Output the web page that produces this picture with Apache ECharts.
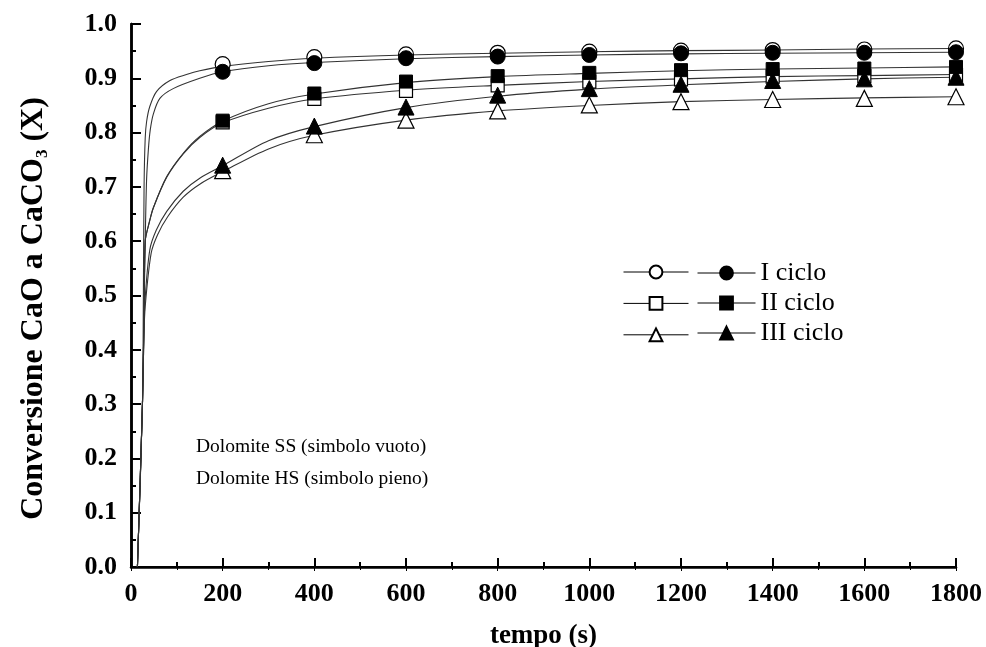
<!DOCTYPE html>
<html>
<head>
<meta charset="utf-8">
<script src="https://cdn.jsdelivr.net/npm/echarts@6/dist/echarts.min.js"></script>
<style>
  html, body { margin: 0; padding: 0; background: #fff; }
  #chart { width: 986px; height: 647px; }
</style>
</head>
<body>
<div id="chart"></div>
<script>
// tempi di misura (s)
const times = [200, 400, 600, 800, 1000, 1200, 1400, 1600, 1800]

// conversione misurata, SS = simbolo vuoto, HS = simbolo pieno
const ssI = [0.926, 0.939, 0.944, 0.947, 0.949, 0.951, 0.952, 0.953, 0.955]
const hsI = [0.912, 0.928, 0.937, 0.940, 0.943, 0.946, 0.947, 0.947, 0.948]
const ssII = [0.819, 0.862, 0.877, 0.887, 0.894, 0.898, 0.903, 0.904, 0.906]
const hsII = [0.822, 0.872, 0.894, 0.904, 0.910, 0.915, 0.917, 0.918, 0.921]
const ssIII = [0.730, 0.796, 0.823, 0.840, 0.851, 0.857, 0.861, 0.863, 0.866]
const hsIII = [0.740, 0.812, 0.847, 0.869, 0.881, 0.889, 0.896, 0.899, 0.902]

// curve di fitting [t, X]
const fitSSI = [[14, 0], [25, 0.3], [27, 0.5], [28.5, 0.7], [31, 0.79], [34, 0.82], [41, 0.848], [56, 0.876], [85, 0.896], [121, 0.907], [150, 0.914], [200, 0.922], [300, 0.931], [400, 0.937], [600, 0.943], [800, 0.946], [1000, 0.949], [1200, 0.951], [1400, 0.952], [1600, 0.954], [1800, 0.955]]
const fitHSI = [[14, 0], [25, 0.3], [28, 0.45], [31, 0.6], [34, 0.713], [38, 0.77], [42, 0.805], [49, 0.835], [63, 0.863], [92, 0.881], [150, 0.9], [200, 0.912], [300, 0.923], [400, 0.929], [600, 0.936], [800, 0.940], [1000, 0.943], [1200, 0.945], [1400, 0.946], [1600, 0.947], [1800, 0.948]]
const fitSSII = [[14, 0], [25, 0.3], [29, 0.5], [31, 0.6], [40, 0.635], [49, 0.662], [78, 0.718], [114, 0.761], [150, 0.791], [200, 0.818], [300, 0.845], [400, 0.862], [600, 0.878], [800, 0.887], [1000, 0.894], [1200, 0.899], [1400, 0.903], [1600, 0.905], [1800, 0.907]]
const fitHSII = [[14, 0], [25, 0.3], [29, 0.5], [31, 0.6], [40, 0.635], [49, 0.662], [78, 0.719], [114, 0.762], [150, 0.793], [200, 0.821], [300, 0.853], [400, 0.871], [600, 0.892], [800, 0.903], [1000, 0.909], [1200, 0.914], [1400, 0.917], [1600, 0.919], [1800, 0.921]]
const fitSSIII = [[14, 0], [25, 0.3], [28, 0.42], [31, 0.48], [44, 0.578], [58, 0.612], [80, 0.645], [114, 0.681], [150, 0.705], [200, 0.728], [300, 0.770], [400, 0.795], [600, 0.823], [800, 0.840], [1000, 0.850], [1200, 0.857], [1400, 0.861], [1600, 0.864], [1800, 0.866]]
const fitHSIII = [[14, 0], [25, 0.3], [28, 0.42], [30.5, 0.49], [41, 0.584], [55, 0.62], [78, 0.655], [114, 0.692], [150, 0.716], [200, 0.739], [300, 0.785], [400, 0.811], [600, 0.846], [800, 0.867], [1000, 0.880], [1200, 0.888], [1400, 0.894], [1600, 0.899], [1800, 0.902]]

const cicli = ['I ciclo', 'II ciclo', 'III ciclo']
const simboli = ['circle', 'rect', 'triangle']
const simboloSize = [15, 13, 16]

const FONT = '"Liberation Serif", "Times New Roman", serif'

const chart = echarts.init(document.getElementById('chart'))

// unisce tempi e valori per le serie di punti
function punti (values) {
  return times.map((t, i) => [t, values[i]])
}

const ssData = [ssI, ssII, ssIII]
const hsData = [hsI, hsII, hsIII]
const fits = [fitSSI, fitHSI, fitSSII, fitHSII, fitSSIII, fitHSIII]

const series = []

// linee di fitting (sotto i simboli)
fits.forEach((f) => {
  series.push({
    type: 'line',
    data: f,
    showSymbol: false,
    smooth: 0.3,
    silent: true,
    lineStyle: { color: '#333', width: 1.1 },
    z: 2
  })
})

// simboli vuoti (SS) e pieni (HS)
cicli.forEach((c, i) => {
  series.push({
    name: 'SS ' + c,
    type: 'line',
    data: punti(ssData[i]),
    symbol: simboli[i],
    symbolSize: simboloSize[i],
    showAllSymbol: true,
    lineStyle: { opacity: 0, width: 0 },
    itemStyle: { color: '#fff', borderColor: '#000', borderWidth: 1.2 },
    z: 3
  })
})
cicli.forEach((c, i) => {
  series.push({
    name: 'HS ' + c,
    type: 'line',
    data: punti(hsData[i]),
    symbol: simboli[i],
    symbolSize: simboloSize[i],
    showAllSymbol: true,
    lineStyle: { opacity: 0, width: 0 },
    itemStyle: { color: '#000', borderColor: '#000', borderWidth: 1 },
    z: 4
  })
})

const labelStyle = { color: '#000', fontFamily: FONT, fontWeight: 'bold', fontSize: 26 }
const legendBase = {
  orient: 'vertical',
  itemHeight: 16,
  selectedMode: false,
  lineStyle: { color: '#000', width: 1, opacity: 1 },
  textStyle: { color: '#000', fontFamily: FONT, fontSize: 26 }
}

const option = {
  animation: false,
  backgroundColor: '#fff',
  grid: { left: 131, right: 30, top: 24, bottom: 80, containLabel: false, outerBoundsMode: 'none' },
  legend: [
    Object.assign({}, legendBase, {
      left: 618,
      top: 259,
      itemWidth: 65,
      itemGap: 16,
      data: cicli.map(c => 'SS ' + c),
      formatter: () => ''
    }),
    Object.assign({}, legendBase, {
      left: 692,
      top: 255,
      itemWidth: 58,
      itemGap: 4,
      data: cicli.map(c => 'HS ' + c),
      formatter: (name) => name.replace('HS ', '')
    })
  ],
  xAxis: [
    {
      type: 'value',
      min: 0,
      max: 1800,
      interval: 200,
      name: 'tempo (s)',
      nameLocation: 'middle',
      nameGap: 56,
      nameTextStyle: Object.assign({}, labelStyle, { fontSize: 27 }),
      axisLine: { lineStyle: { color: '#000', width: 2.5 } },
      axisTick: { inside: true, length: 9, lineStyle: { color: '#000', width: 2 } },
      minorTick: { show: true, splitNumber: 2, length: 5, lineStyle: { color: '#000', width: 2 } },
      axisLabel: Object.assign({ margin: 14, formatter: v => String(v) }, labelStyle),
      splitLine: { show: false }
    },
    {
      type: 'value',
      position: 'top',
      min: 0,
      max: 1800,
      interval: 200,
      axisLine: { lineStyle: { color: '#000', width: 2 } },
      axisTick: { inside: true, length: 4, lineStyle: { color: '#000', width: 1 } },
      minorTick: { show: true, splitNumber: 2, length: 3, lineStyle: { color: '#000', width: 1 } },
      axisLabel: { show: false },
      splitLine: { show: false }
    }
  ],
  yAxis: [
    {
      type: 'value',
      min: 0,
      max: 1,
      interval: 0.1,
      name: '{b|Conversione CaO a CaCO}{s|3}{e| (X)}',
      nameLocation: 'middle',
      nameGap: 80,
      nameTextStyle: {
        rich: {
          b: { color: '#000', fontFamily: FONT, fontWeight: 'bold', fontSize: 32, lineHeight: 34 },
          s: { color: '#000', fontFamily: FONT, fontWeight: 'bold', fontSize: 17, lineHeight: 18, verticalAlign: 'bottom' },
          e: { color: '#000', fontFamily: FONT, fontWeight: 'bold', fontSize: 32, lineHeight: 34, padding: [0, 26, 0, 0] }
        }
      },
      axisLine: { lineStyle: { color: '#000', width: 2.5 } },
      axisTick: { inside: true, length: 10, lineStyle: { color: '#000', width: 2 } },
      minorTick: { show: true, splitNumber: 2, length: 5, lineStyle: { color: '#000', width: 2 } },
      axisLabel: Object.assign({ margin: 14, formatter: v => v.toFixed(1) }, labelStyle),
      splitLine: { show: false }
    },
    {
      type: 'value',
      position: 'right',
      min: 0,
      max: 1,
      interval: 0.1,
      axisLine: { show: true, lineStyle: { color: '#000', width: 2.5 } },
      axisTick: { show: false },
      axisLabel: { show: false },
      splitLine: { show: false }
    }
  ],
  graphic: [
    {
      type: 'text',
      left: 196,
      top: 437,
      style: { text: 'Dolomite SS (simbolo vuoto)', fill: '#000', font: '19.5px ' + FONT }
    },
    {
      type: 'text',
      left: 196,
      top: 469,
      style: { text: 'Dolomite HS (simbolo pieno)', fill: '#000', font: '19.5px ' + FONT }
    }
  ],
  series: series
}

chart.setOption(option)
</script>
</body>
</html>
